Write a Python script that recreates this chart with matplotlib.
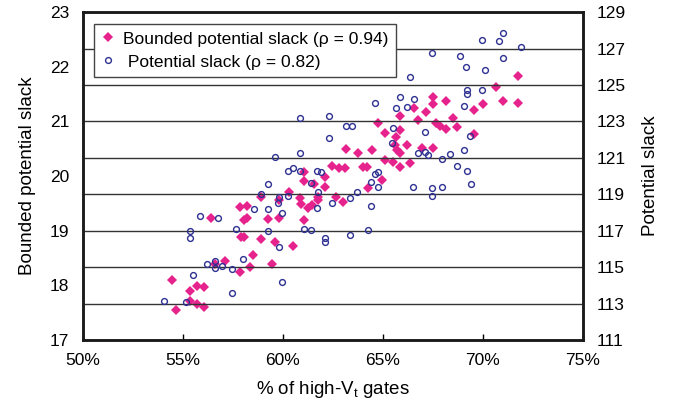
import matplotlib.pyplot as plt

plt.rcParams['font.family'] = ['Liberation Sans', 'DejaVu Sans']

# Bounded potential slack (left axis)
bounded_x = [54.45, 54.65, 55.35, 55.70, 56.05, 55.35, 55.70, 56.05, 56.40, 56.60,
             57.10, 57.85, 58.20, 58.05, 58.20, 57.90, 58.05, 57.85, 58.35, 58.50,
             58.90, 59.25, 59.80, 59.60, 59.45, 60.50, 61.05, 58.90, 59.80, 60.30,
             60.85, 60.90, 61.25, 61.45, 61.75, 61.75, 62.65, 63.00, 61.05, 61.55,
             62.10, 62.10, 61.05, 62.45, 62.80, 63.10, 63.15, 63.75, 64.45, 64.00,
             64.20, 64.25, 64.95, 64.75, 65.10, 65.85, 66.55, 67.15, 66.75, 65.85,
             65.65, 65.60, 65.70, 65.85, 66.20, 66.95, 67.50, 65.10, 65.50, 65.85,
             66.35, 67.50, 67.50, 68.15, 67.65, 67.85, 68.15, 68.50, 68.70, 69.55,
             70.00, 70.65, 71.00, 71.75, 71.75, 69.55]
bounded_y = [18.10, 17.55, 17.90, 17.99, 17.97, 17.71, 17.66, 17.60, 19.23, 18.39,
             18.45, 19.43, 19.45, 19.20, 19.23, 18.88, 18.88, 18.24, 18.34, 18.55,
             18.85, 19.21, 19.23, 18.79, 18.39, 18.72, 19.19, 19.62, 19.56, 19.71,
             19.60, 19.49, 19.41, 19.47, 19.62, 19.56, 19.62, 19.52, 19.91, 19.85,
             19.98, 19.80, 20.07, 20.18, 20.15, 20.15, 20.49, 20.42, 20.48, 20.16,
             20.16, 19.78, 19.93, 20.97, 20.79, 21.10, 21.24, 21.17, 21.02, 20.84,
             20.71, 20.57, 20.48, 20.42, 20.57, 20.51, 20.51, 20.29, 20.26, 20.16,
             20.24, 21.44, 21.32, 21.37, 20.97, 20.91, 20.86, 21.06, 20.90, 21.21,
             21.32, 21.63, 21.37, 21.83, 21.34, 20.77]

# Potential slack (right axis)
pot_x = [54.05, 55.15, 55.50, 55.35, 55.35, 55.85, 56.75, 56.20, 56.60, 56.60,
         56.95, 57.45, 57.45, 57.65, 58.00, 58.55, 59.25, 59.25, 59.75, 59.95,
         59.80, 59.95, 61.05, 61.40, 61.70, 62.10, 62.10, 62.45, 59.25, 58.90,
         59.80, 60.25, 61.75, 61.40, 63.35, 63.70, 63.35, 60.85, 62.30, 62.30,
         63.15, 63.45, 59.60, 60.85, 60.25, 60.50, 60.85, 61.70, 61.90, 67.45,
         68.85, 69.15, 69.95, 70.80, 71.00, 71.90, 71.00, 70.10, 66.35, 69.20,
         69.20, 69.95, 64.60, 65.85, 66.55, 65.65, 66.20, 69.05, 65.50, 67.10,
         69.35, 65.45, 66.75, 67.10, 67.25, 67.95, 68.35, 69.05, 68.70, 69.20,
         69.40, 64.60, 64.75, 64.40, 64.75, 66.50, 67.45, 67.95, 67.45, 64.40,
         64.25]
pot_y = [113.14, 113.09, 114.57, 116.98, 116.60, 117.81, 117.70, 115.17, 115.34, 114.95,
         115.06, 114.90, 113.58, 117.09, 115.45, 118.19, 118.19, 116.98, 118.52, 117.97,
         116.10, 114.18, 117.09, 117.04, 118.24, 116.60, 116.38, 118.52, 119.56, 119.01,
         118.85, 118.90, 119.12, 119.62, 118.79, 119.12, 116.76, 123.18, 123.29, 122.09,
         122.75, 122.75, 121.04, 121.26, 120.28, 120.44, 120.28, 120.28, 120.22, 126.75,
         126.59, 125.98, 127.47, 127.41, 127.85, 127.08, 126.48, 125.82, 125.43, 124.72,
         124.50, 124.72, 124.01, 124.34, 124.23, 123.73, 123.79, 123.84, 122.64, 122.42,
         122.20, 121.81, 121.26, 121.32, 121.15, 120.93, 121.21, 121.43, 120.55, 120.28,
         119.56, 120.11, 120.22, 119.67, 119.40, 119.40, 119.34, 119.40, 118.90, 118.35,
         117.04]

x_ticks = [50, 55, 60, 65, 70, 75]
x_labels = ['50%', '55%', '60%', '65%', '70%', '75%']
left_ticks = [17, 18, 19, 20, 21, 22, 23]
right_ticks = [111, 113, 115, 117, 119, 121, 123, 125, 127, 129]

pink = '#E6228C'
blue = '#2E3192'

fig = plt.figure(figsize=(6.8, 4.03), dpi=100)
ax = fig.add_axes([0.122, 0.156, 0.735, 0.814])
ax2 = ax.twinx()

ax2.set_ylim(111, 129)
ax2.set_yticks(right_ticks)
ax2.yaxis.grid(True, color='#333333', linewidth=1.0)
ax2.set_axisbelow(True)

h1, = ax.plot(bounded_x, bounded_y, linestyle='none', marker='D', markersize=4.8,
              color=pink, markeredgewidth=0, label='Bounded potential slack (\u03c1 = 0.94)')
h2, = ax2.plot(pot_x, pot_y, linestyle='none', marker='o', markersize=4.2,
               markerfacecolor='none', markeredgecolor=blue, markeredgewidth=1.0,
               label=' Potential slack (\u03c1 = 0.82)')

ax.set_xlim(50, 75)
ax.set_ylim(17, 23)
ax.set_xticks(x_ticks)
ax.set_xticklabels(x_labels)
ax.set_yticks(left_ticks)

ax.tick_params(axis='x', direction='in', length=4, width=1, pad=9, labelsize=12.5)
ax.tick_params(axis='y', length=0, pad=10, labelsize=12.5)
ax2.tick_params(axis='y', length=0, pad=10, labelsize=12.5)

for a in (ax, ax2):
    for s in a.spines.values():
        s.set_linewidth(1.8)
        s.set_color('#1a1a1a')

ax.set_xlabel('% of high-V$_\\mathregular{t}$ gates', fontsize=13.5, labelpad=8)
ax.set_ylabel('Bounded potential slack', fontsize=13.5, labelpad=10)
ax2.set_ylabel('Potential slack', fontsize=13.5, labelpad=12)

leg = ax2.legend(handles=[h1, h2], loc='upper left', bbox_to_anchor=(0.022, 0.965),
                 fontsize=12.5, frameon=True, fancybox=False, framealpha=1,
                 edgecolor='#444444', handlelength=0.7, handletextpad=0.5,
                 borderpad=0.45, labelspacing=0.45, borderaxespad=0)
leg.get_frame().set_linewidth(1.0)

fig.savefig('out.png', dpi=100)
